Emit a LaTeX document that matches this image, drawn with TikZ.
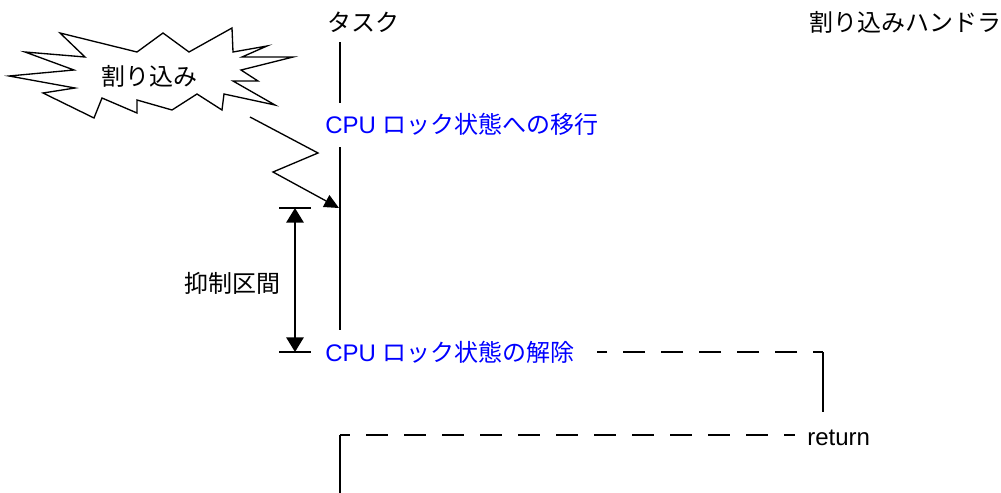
\documentclass[tikz,border=0pt]{standalone}
\usepackage{fontspec}
\setmainfont{Liberation Sans}
\newfontfamily\cjk{Noto Sans CJK JP}
\usetikzlibrary{arrows.meta}
\begin{document}
\begin{tikzpicture}[x=0.75pt,y=-0.75pt,
  font=\fontsize{18}{21}\selectfont,
  solidline/.style={line width=1.5pt},
  thinline/.style={line width=1pt},
  dashline/.style={line width=1.5pt, dash pattern=on 16.5pt off 12pt, dash phase=9pt},
  lbl/.style={inner sep=0pt, anchor=west},
  blu/.style={lbl, text=blue}]
\useasboundingbox (0,0) rectangle (1001,493);
% starburst
\draw[thinline, fill=white] (60,33) -- (137,52) -- (163,33) -- (189,52) -- (232,28) -- (233,52)
  -- (267,46) -- (242,57) -- (293,57) -- (241,70) -- (258,81) -- (233,81) -- (275,105)
  -- (224,94) -- (222,110) -- (197,94) -- (172,110) -- (137,100) -- (137,113) -- (102,98)
  -- (94,118) -- (43,93) -- (75,88) -- (9,76) -- (74,70) -- (25,52) -- (85,57) -- cycle;
\node[inner sep=0pt] (irq) at (149,76) {\cjk 割り込み};
% labels
\node[lbl] (task) at (327,22) {\cjk タスク};
\node[lbl] (handler) at (809,22) {\cjk 割り込みハンドラ};
\node[blu] (lock) at (325,124) {CPU \cjk ロック状態への移行};
\node[blu] (unlock) at (325,352) {CPU \cjk ロック状態の解除};
\node[lbl] (ret) at (807,438) {return};
\node[lbl] (supp) at (184,283) {\cjk 抑制区間};
% task line
\coordinate (t1) at (340,42);
\coordinate (t2) at (340,103);
\coordinate (t3) at (340,147);
\coordinate (t4) at (340,330);
\draw[solidline] (t1) -- (t2);
\draw[solidline] (t3) -- (t4);
% lightning arrow
\coordinate (l1) at (250,117);
\coordinate (l2) at (318,153);
\coordinate (l3) at (273,172);
\coordinate (l4) at (339,208);
\draw[thinline, -{Triangle[length=11pt,width=10pt]}] (l1) -- (l2) -- (l3) -- (l4);
% suppression interval
\coordinate (b1) at (279,208);
\coordinate (b2) at (311,208);
\coordinate (b3) at (279,352);
\coordinate (b4) at (311,352);
\coordinate (a1) at (295,208);
\coordinate (a2) at (295,352);
\draw[solidline] (b1) -- (b2);
\draw[solidline] (b3) -- (b4);
\draw[solidline, {Triangle[length=11pt,width=13pt]}-{Triangle[length=11pt,width=13pt]}] (a1) -- (a2);
% to handler
\coordinate (c1) at (823,352);
\coordinate (c2) at (823,412);
\coordinate (d1) at (597,352);
\draw[dashline] (c1) -- (d1);
\draw[solidline] (c1) -- (c2);
% return
\coordinate (c3) at (340,435);
\coordinate (c4) at (340,493);
\coordinate (d2) at (795,435);
\draw[dashline] (c3) -- (d2);
\draw[solidline] (c3) -- (c4);
\end{tikzpicture}
\end{document}
